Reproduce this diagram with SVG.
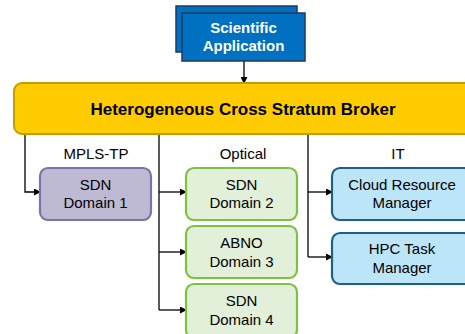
<svg xmlns="http://www.w3.org/2000/svg" width="465" height="334" viewBox="0 0 465 334">
<defs>
<style>
text{font-family:"Liberation Sans",Arial,sans-serif;text-anchor:middle}
.t{font-size:15px;fill:#000}
.b{font-weight:bold}
.app{fill:#0070C0;stroke:#1F3864;stroke-width:1.5}
.mpls{fill:#BEBAD4;stroke:#7B74A6;stroke-width:2.2}
.opt{fill:#E2F0D9;stroke:#7CC242;stroke-width:2.2}
.it{fill:#BDE5F8;stroke:#1F5F86;stroke-width:2.2}
.c{fill:none;stroke:#000;stroke-width:1.3}
</style>
<marker id="ah" markerWidth="7" markerHeight="7" refX="6" refY="3.5" orient="auto" markerUnits="userSpaceOnUse">
<path d="M0,0 L7,3.5 L0,7 Z" fill="#000"/>
</marker>
</defs>
<g id="connectors">
<path class="c" d="M244,61 V83" marker-end="url(#ah)"/>
<path class="c" d="M25,134 V192 H40" marker-end="url(#ah)"/>
<path class="c" d="M159,134 V310"/>
<path class="c" d="M159,192 H186" marker-end="url(#ah)"/>
<path class="c" d="M159,252 H186" marker-end="url(#ah)"/>
<path class="c" d="M159,310 H186" marker-end="url(#ah)"/>
<path class="c" d="M308,134 V257"/>
<path class="c" d="M308,192 H332" marker-end="url(#ah)"/>
<path class="c" d="M308,257 H332" marker-end="url(#ah)"/>
</g>
<g id="scientific-application">
<rect class="app" x="176" y="6" width="121" height="46"/>
<rect class="app" x="182" y="13" width="123" height="48"/>
<text class="b" x="243.5" y="33" font-size="15" fill="#fff">Scientific</text>
<text class="b" x="243.5" y="51" font-size="15" fill="#fff">Application</text>
</g>
<g id="broker">
<rect x="14" y="83" width="465" height="51" rx="8" fill="#FFCC00" stroke="#C59B00" stroke-width="2"/>
<text class="b" x="243" y="115" font-size="17" fill="#000">Heterogeneous Cross Stratum Broker</text>
</g>
<g id="labels">
<text class="t" x="96" y="159">MPLS-TP</text>
<text class="t" x="243" y="159">Optical</text>
<text class="t" x="398" y="159">IT</text>
</g>
<g id="sdn-domain-1">
<rect class="mpls" x="40" y="168" width="111" height="52" rx="8"/>
<text class="t" x="95.5" y="190">SDN</text>
<text class="t" x="95.5" y="208">Domain 1</text>
</g>
<g id="sdn-domain-2">
<rect class="opt" x="186" y="168" width="111" height="52" rx="8"/>
<text class="t" x="241.5" y="190">SDN</text>
<text class="t" x="241.5" y="208">Domain 2</text>
</g>
<g id="abno-domain-3">
<rect class="opt" x="186" y="226" width="111" height="52" rx="8"/>
<text class="t" x="241.5" y="248">ABNO</text>
<text class="t" x="241.5" y="267">Domain 3</text>
</g>
<g id="sdn-domain-4">
<rect class="opt" x="186" y="284" width="111" height="54" rx="8"/>
<text class="t" x="241.5" y="306">SDN</text>
<text class="t" x="241.5" y="325">Domain 4</text>
</g>
<g id="cloud-resource-manager">
<rect class="it" x="332" y="168" width="140" height="52" rx="8"/>
<text class="t" x="402" y="190">Cloud Resource</text>
<text class="t" x="402" y="208">Manager</text>
</g>
<g id="hpc-task-manager">
<rect class="it" x="332" y="233" width="140" height="51" rx="8"/>
<text class="t" x="402" y="254">HPC Task</text>
<text class="t" x="402" y="273">Manager</text>
</g>
</svg>
